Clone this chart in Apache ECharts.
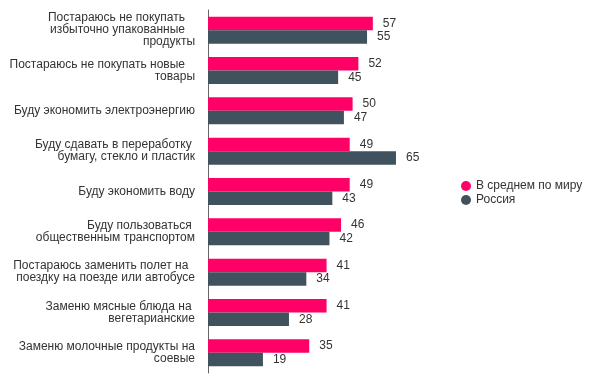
<!DOCTYPE html>
<html><head><meta charset="utf-8">
<script src="https://cdn.jsdelivr.net/npm/echarts@6/dist/echarts.min.js"></script>
<style>html,body{margin:0;padding:0;background:#fff}#c{width:594px;height:384px}</style>
</head><body><div id="c"></div>
<script>
var categories = [
  "Постараюсь не покупать   \nизбыточно упакованные   \nпродукты",
  "Постараюсь не покупать новые   \nтовары",
  "Буду экономить электроэнергию",
  "Буду сдавать в переработку \nбумагу, стекло и пластик",
  "Буду экономить воду",
  "Буду пользоваться \nобщественным транспортом",
  "Постараюсь заменить полет на  \nпоездку на поезде или автобусе",
  "Заменю мясные блюда на \nвегетарианские",
  "Заменю молочные продукты на\nсоевые"
];
var seriesNames = ["В среднем по миру", "Россия"];
var world = [57, 52, 50, 49, 49, 46, 41, 41, 35];
var russia = [55, 45, 47, 65, 43, 42, 34, 28, 19];

var chart = echarts.init(document.getElementById('c'), null, {renderer: 'canvas'});
var lbl = {show: true, position: 'right', distance: 10, color: '#333', fontSize: 12, fontFamily: 'Liberation Sans, Arial, sans-serif'};
chart.setOption({
  animation: false,
  textStyle: {fontFamily: 'Liberation Sans, Arial, sans-serif'},
  grid: {left: 208, top: 10, width: 289.2, height: 363},
  legend: {
    orient: 'vertical', left: 456, top: 174, itemGap: 0, icon: 'circle', itemWidth: 10, itemHeight: 10,
    textStyle: {fontSize: 12, color: '#333', lineHeight: 14},
    data: seriesNames
  },
  xAxis: {type: 'value', min: 0, max: 100, show: false},
  yAxis: {
    type: 'category', inverse: true, data: categories,
    axisLine: {show: true, lineStyle: {color: '#666'}},
    axisTick: {show: false},
    axisLabel: {color: '#333', fontSize: 12, lineHeight: 12, margin: 13, align: 'right'}
  },
  series: [
    {name: seriesNames[0], type: 'bar', data: world, barGap: '0%', barCategoryGap: '33%', itemStyle: {color: '#ff0066'}, label: lbl},
    {name: seriesNames[1], type: 'bar', data: russia, barGap: '0%', barCategoryGap: '33%', itemStyle: {color: '#41525f'}, label: lbl}
  ]
});
</script></body></html>
